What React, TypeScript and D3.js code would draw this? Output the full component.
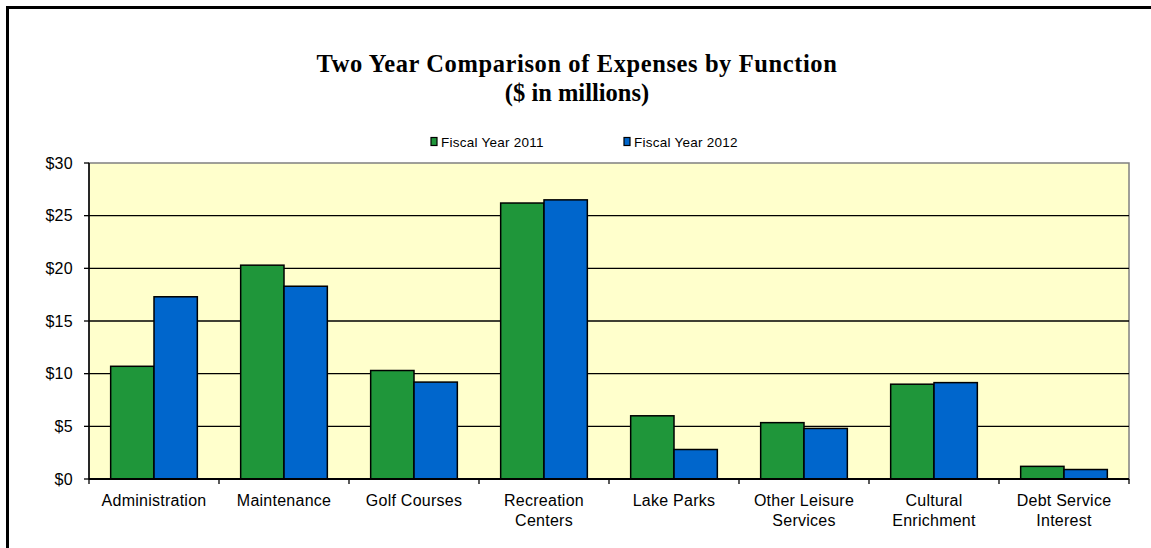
import React from "react";
import * as d3 from "d3";

const categories = [
  "Administration",
  "Maintenance",
  "Golf Courses",
  "Recreation\nCenters",
  "Lake Parks",
  "Other Leisure\nServices",
  "Cultural\nEnrichment",
  "Debt Service\nInterest",
];
const seriesNames = ["Fiscal Year 2011", "Fiscal Year 2012"];
const fy2011 = [10.7, 20.3, 10.3, 26.2, 6.0, 5.35, 9.0, 1.2];
const fy2012 = [17.3, 18.3, 9.2, 26.5, 2.8, 4.8, 9.15, 0.9];
const seriesValues = [fy2011, fy2012];
const seriesColors = ["#1F963A", "#0066CC"];
const yTicks = [0, 5, 10, 15, 20, 25, 30];
const titleLines = ["Two Year Comparison of Expenses by Function", "($ in millions)"];

const W = 1151;
const H = 548;
const plot = { left: 89, right: 1129, top: 163, bottom: 479 };

export default function App() {
  const x = d3
    .scaleBand<string>()
    .domain(categories)
    .range([plot.left, plot.right])
    .paddingInner(0)
    .paddingOuter(0);
  const bw = x.bandwidth();
  const x1 = d3
    .scaleBand<string>()
    .domain(seriesNames)
    .range([bw / 6, bw - bw / 6])
    .padding(0);
  const y = d3.scaleLinear().domain([0, 30]).range([plot.bottom, plot.top]);
  const fmt = (v: number) => "$" + d3.format("d")(v);

  const sans = "'Liberation Sans', Arial, sans-serif";
  const serif = "'Liberation Serif', 'Times New Roman', serif";

  return (
    <svg
      width={W}
      height={H}
      style={{ position: "absolute", left: 0, top: 0, background: "#fff" }}
    >
      {/* outer frame (continues past the picture) */}
      <rect x={7.5} y={7.5} width={W + 20} height={H + 20} fill="#fff" stroke="#000" strokeWidth={3} />

      {/* title */}
      <text textAnchor="middle" fontFamily={serif} fontWeight="bold" fontSize={24.5} fill="#000">
        <tspan x={577} y={72} letterSpacing={0.6}>{titleLines[0]}</tspan>
        <tspan x={577} y={101}>{titleLines[1]}</tspan>
      </text>

      {/* legend */}
      {seriesNames.map((s, i) => {
        const lx = i === 0 ? 431 : 624;
        return (
          <g key={s}>
            <rect x={lx} y={137.5} width={6} height={8} fill={seriesColors[i]} stroke="#000" strokeWidth={1.2} />
            <text x={lx + 10} y={146.5} fontFamily={sans} fontSize={13.5} letterSpacing={0.25} fill="#000">
              {s}
            </text>
          </g>
        );
      })}

      {/* plot background */}
      <rect
        x={plot.left}
        y={plot.top}
        width={plot.right - plot.left}
        height={plot.bottom - plot.top}
        fill="#FFFFCC"
        stroke="#808080"
        strokeWidth={1.5}
      />

      {/* gridlines */}
      {yTicks
        .filter((t) => t > 0 && t < 30)
        .map((t) => (
          <line key={t} x1={plot.left} x2={plot.right} y1={y(t)} y2={y(t)} stroke="#000" strokeWidth={1.3} />
        ))}

      {/* bars */}
      {categories.map((c, ci) =>
        seriesNames.map((s, si) => {
          const v = seriesValues[si][ci];
          const bx = (x(c) as number) + (x1(s) as number);
          return (
            <rect
              key={c + s}
              x={bx}
              y={y(v)}
              width={x1.bandwidth()}
              height={y(0) - y(v)}
              fill={seriesColors[si]}
              stroke="#000"
              strokeWidth={1.5}
            />
          );
        })
      )}

      {/* y axis */}
      <line x1={plot.left} x2={plot.left} y1={plot.top} y2={plot.bottom} stroke="#000" strokeWidth={1.5} />
      {yTicks.map((t) => (
        <g key={t}>
          <line x1={plot.left - 5} x2={plot.left} y1={y(t)} y2={y(t)} stroke="#000" strokeWidth={1.3} />
          <text
            x={plot.left - 16}
            y={y(t)}
            dy="0.36em"
            textAnchor="end"
            fontFamily={sans}
            fontSize={16}
            letterSpacing={0.3}
            fill="#000"
          >
            {fmt(t)}
          </text>
        </g>
      ))}

      {/* x axis */}
      <line x1={plot.left} x2={plot.right} y1={plot.bottom} y2={plot.bottom} stroke="#000" strokeWidth={1.8} />
      {categories.map((c) => (
        <line
          key={"t" + c}
          x1={x(c) as number}
          x2={x(c) as number}
          y1={plot.bottom}
          y2={plot.bottom + 5}
          stroke="#000"
          strokeWidth={1.3}
        />
      ))}
      <line x1={plot.right} x2={plot.right} y1={plot.bottom} y2={plot.bottom + 5} stroke="#000" strokeWidth={1.3} />
      {categories.map((c) => (
        <text
          key={"l" + c}
          textAnchor="middle"
          fontFamily={sans}
          fontSize={16}
          letterSpacing={0.25}
          fill="#000"
        >
          {c.split("\n").map((ln, li) => (
            <tspan key={li} x={(x(c) as number) + bw / 2} y={506 + li * 19.5}>
              {ln}
            </tspan>
          ))}
        </text>
      ))}
    </svg>
  );
}
